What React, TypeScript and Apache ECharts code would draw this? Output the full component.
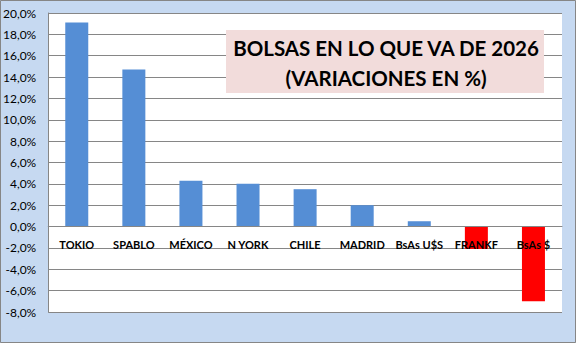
import React, { useEffect, useRef } from "react";
import * as echarts from "echarts";

const categories = ["TOKIO", "SPABLO", "MÉXICO", "N YORK", "CHILE", "MADRID", "BsAs U$S", "FRANKF", "BsAs $"];
const values = [19.1, 14.7, 4.3, 4.0, 3.5, 2.0, 0.5, -2.1, -7.0];
const titleLines = ["BOLSAS EN LO QUE VA DE 2026", "(VARIACIONES EN %)"];

export default function App() {
  const ref = useRef<HTMLDivElement>(null);
  useEffect(() => {
    document.body.style.margin = "0";
    const chart = echarts.init(ref.current!, null, { renderer: "svg" });
    chart.setOption({
      animation: false,
      backgroundColor: "#C6D9F1",
      textStyle: { fontFamily: "Lato" },
      grid: { left: 47, top: 13, right: 14, bottom: 31, show: true, backgroundColor: "#FFFFFF", borderWidth: 0 },
      xAxis: {
        type: "category",
        data: categories,
        z: 5,
        offset: -85.4,
        axisLine: { show: true, onZero: false, lineStyle: { color: "#868686", width: 1 } },
        axisTick: { show: false },
        axisLabel: { color: "#000", fontWeight: "bold", fontSize: 11, fontFamily: "Lato", margin: 12, interval: 0 },
        splitLine: { show: false },
      },
      yAxis: {
        type: "value",
        min: -8,
        max: 20,
        interval: 2,
        axisLine: { show: true, lineStyle: { color: "#868686", width: 1 } },
        axisTick: { show: false },
        axisLabel: {
          color: "#000",
          fontSize: 12,
          fontFamily: "Lato",
          margin: 12,
          formatter: (v: number) => v.toFixed(1).replace(".", ",") + "%",
        },
        splitLine: { show: true, lineStyle: { color: "#868686", width: 1 } },
      },
      series: [
        {
          type: "bar",
          data: values.map((v) => ({ value: v, itemStyle: { color: v < 0 ? "#FF0000" : "#558ED5" } })),
          barWidth: 23,
        },
      ],
      graphic: [
        {
          type: "rect",
          shape: { x: 0.5, y: 0.5, width: 575, height: 342 },
          style: { fill: "none", stroke: "#868686", lineWidth: 1 },
          z: 10,
        },
        {
          type: "rect",
          shape: { x: 226, y: 30, width: 318, height: 63 },
          style: { fill: "#F2DCDB" },
          z: 10,
        },
        {
          type: "text",
          x: 386,
          y: 63,
          z: 11,
          style: {
            text: titleLines.join("\n"),
            align: "center",
            verticalAlign: "middle",
            font: "bold 20.5px Lato",
            lineHeight: 30,
            fill: "#000",
          },
        },
      ],
    });
    return () => chart.dispose();
  }, []);
  return <div ref={ref} style={{ width: 576, height: 343 }} />;
}
